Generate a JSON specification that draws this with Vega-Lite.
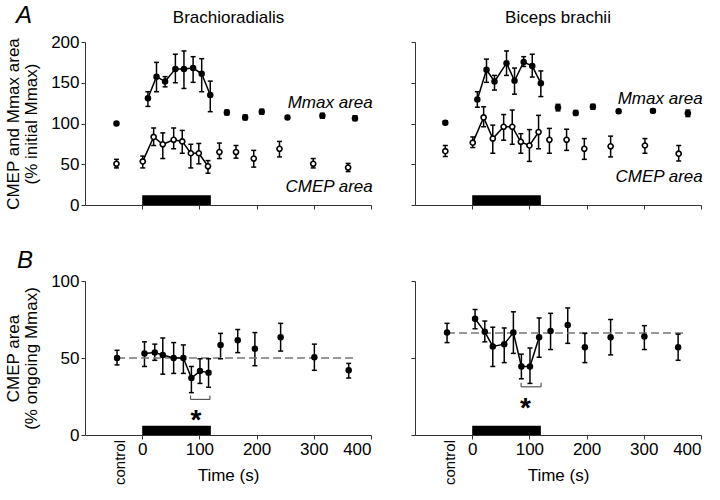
{
 "$schema": "https://vega.github.io/schema/vega-lite/v6.json",
 "background": "white",
 "padding": {"left": 4, "top": 4, "right": 5, "bottom": 4},
 "config": {
  "font": "Liberation Sans",
  "view": {"stroke": null},
  "axis": {"grid": false, "domainColor": "#333", "tickColor": "#333", "labelColor": "black", "titleColor": "black", "labelFontSize": 17, "titleFontSize": 17, "titleFontWeight": "normal", "tickSize": 4, "labelFont": "Liberation Sans", "titleFont": "Liberation Sans"}
 },
 "datasets": {
  "pts": [
   {"p":"A","m":"BR","s":"Mmax","ph":"c","t":-45,"v":100,"lo":98,"hi":102},
   {"p":"A","m":"BR","s":"Mmax","ph":"d","t":10,"v":131,"lo":121,"hi":139},
   {"p":"A","m":"BR","s":"Mmax","ph":"d","t":25,"v":157.5,"lo":139,"hi":175},
   {"p":"A","m":"BR","s":"Mmax","ph":"d","t":40,"v":151.5,"lo":145,"hi":157.5},
   {"p":"A","m":"BR","s":"Mmax","ph":"d","t":58,"v":167,"lo":150,"hi":185},
   {"p":"A","m":"BR","s":"Mmax","ph":"d","t":73,"v":167,"lo":143,"hi":189},
   {"p":"A","m":"BR","s":"Mmax","ph":"d","t":89,"v":168,"lo":150.5,"hi":182},
   {"p":"A","m":"BR","s":"Mmax","ph":"d","t":104,"v":161,"lo":139,"hi":179.5},
   {"p":"A","m":"BR","s":"Mmax","ph":"d","t":119,"v":135,"lo":114.5,"hi":152},
   {"p":"A","m":"BR","s":"Mmax","ph":"p","t":148,"v":113.5,"lo":110.5,"hi":116.5},
   {"p":"A","m":"BR","s":"Mmax","ph":"p","t":180,"v":107.5,"lo":104.5,"hi":110.5},
   {"p":"A","m":"BR","s":"Mmax","ph":"p","t":209,"v":114.5,"lo":111.5,"hi":117.5},
   {"p":"A","m":"BR","s":"Mmax","ph":"p","t":254,"v":107.5,"lo":105.5,"hi":109.5},
   {"p":"A","m":"BR","s":"Mmax","ph":"p","t":315,"v":109.5,"lo":106.5,"hi":112.5},
   {"p":"A","m":"BR","s":"Mmax","ph":"p","t":372,"v":106.5,"lo":103.5,"hi":109.5},
   {"p":"A","m":"BR","s":"CMEP","ph":"c","t":-45,"v":50.5,"lo":45.5,"hi":56},
   {"p":"A","m":"BR","s":"CMEP","ph":"d","t":1,"v":53.5,"lo":45.5,"hi":60},
   {"p":"A","m":"BR","s":"CMEP","ph":"d","t":20,"v":83.5,"lo":73,"hi":94.5},
   {"p":"A","m":"BR","s":"CMEP","ph":"d","t":36,"v":74.5,"lo":57,"hi":88.5},
   {"p":"A","m":"BR","s":"CMEP","ph":"d","t":55,"v":80,"lo":69,"hi":94.5},
   {"p":"A","m":"BR","s":"CMEP","ph":"d","t":70,"v":78,"lo":63.5,"hi":91.5},
   {"p":"A","m":"BR","s":"CMEP","ph":"d","t":85,"v":63.5,"lo":45.5,"hi":74.5},
   {"p":"A","m":"BR","s":"CMEP","ph":"d","t":99,"v":63.5,"lo":50.5,"hi":75.5},
   {"p":"A","m":"BR","s":"CMEP","ph":"d","t":115,"v":47.5,"lo":39,"hi":54.5},
   {"p":"A","m":"BR","s":"CMEP","ph":"p","t":135,"v":65,"lo":57,"hi":76},
   {"p":"A","m":"BR","s":"CMEP","ph":"p","t":164,"v":65,"lo":57.5,"hi":73},
   {"p":"A","m":"BR","s":"CMEP","ph":"p","t":195,"v":57,"lo":46.5,"hi":67},
   {"p":"A","m":"BR","s":"CMEP","ph":"p","t":240,"v":69,"lo":59,"hi":78},
   {"p":"A","m":"BR","s":"CMEP","ph":"p","t":299,"v":50.5,"lo":45.5,"hi":57},
   {"p":"A","m":"BR","s":"CMEP","ph":"p","t":360,"v":46,"lo":41,"hi":51},
   {"p":"A","m":"BB","s":"Mmax","ph":"c","t":-47,"v":101,"lo":99,"hi":103},
   {"p":"A","m":"BB","s":"Mmax","ph":"d","t":9,"v":129.5,"lo":120,"hi":139},
   {"p":"A","m":"BB","s":"Mmax","ph":"d","t":25,"v":166,"lo":150.5,"hi":179},
   {"p":"A","m":"BB","s":"Mmax","ph":"d","t":39,"v":151.5,"lo":141,"hi":159},
   {"p":"A","m":"BB","s":"Mmax","ph":"d","t":60,"v":174,"lo":159,"hi":189},
   {"p":"A","m":"BB","s":"Mmax","ph":"d","t":74,"v":152.5,"lo":136,"hi":168},
   {"p":"A","m":"BB","s":"Mmax","ph":"d","t":90,"v":175.5,"lo":170,"hi":182},
   {"p":"A","m":"BB","s":"Mmax","ph":"d","t":105,"v":170.5,"lo":157,"hi":185},
   {"p":"A","m":"BB","s":"Mmax","ph":"d","t":120,"v":149.5,"lo":133,"hi":164.5},
   {"p":"A","m":"BB","s":"Mmax","ph":"p","t":150,"v":119.5,"lo":115.5,"hi":123.5},
   {"p":"A","m":"BB","s":"Mmax","ph":"p","t":181,"v":113,"lo":110,"hi":116},
   {"p":"A","m":"BB","s":"Mmax","ph":"p","t":211,"v":120.5,"lo":117.5,"hi":123.5},
   {"p":"A","m":"BB","s":"Mmax","ph":"p","t":256,"v":115,"lo":113,"hi":117},
   {"p":"A","m":"BB","s":"Mmax","ph":"p","t":316,"v":115.5,"lo":113.5,"hi":117.5},
   {"p":"A","m":"BB","s":"Mmax","ph":"p","t":377,"v":112.5,"lo":108.5,"hi":116.5},
   {"p":"A","m":"BB","s":"CMEP","ph":"c","t":-47,"v":66,"lo":59.5,"hi":73},
   {"p":"A","m":"BB","s":"CMEP","ph":"d","t":1,"v":76.5,"lo":70.5,"hi":83.5},
   {"p":"A","m":"BB","s":"CMEP","ph":"d","t":20,"v":107.5,"lo":96,"hi":120.5},
   {"p":"A","m":"BB","s":"CMEP","ph":"d","t":36,"v":81.5,"lo":63.5,"hi":98},
   {"p":"A","m":"BB","s":"CMEP","ph":"d","t":55,"v":96,"lo":79.5,"hi":111},
   {"p":"A","m":"BB","s":"CMEP","ph":"d","t":70,"v":96,"lo":74.5,"hi":116.5},
   {"p":"A","m":"BB","s":"CMEP","ph":"d","t":85,"v":77.5,"lo":63.5,"hi":87.5},
   {"p":"A","m":"BB","s":"CMEP","ph":"d","t":100,"v":73,"lo":53.5,"hi":92.5},
   {"p":"A","m":"BB","s":"CMEP","ph":"d","t":116,"v":89.5,"lo":69,"hi":110},
   {"p":"A","m":"BB","s":"CMEP","ph":"p","t":135,"v":80,"lo":63.5,"hi":94},
   {"p":"A","m":"BB","s":"CMEP","ph":"p","t":165,"v":80,"lo":67,"hi":93},
   {"p":"A","m":"BB","s":"CMEP","ph":"p","t":196,"v":69,"lo":56,"hi":81.5},
   {"p":"A","m":"BB","s":"CMEP","ph":"p","t":242,"v":72,"lo":59,"hi":84.5},
   {"p":"A","m":"BB","s":"CMEP","ph":"p","t":302,"v":73,"lo":63.5,"hi":81.5},
   {"p":"A","m":"BB","s":"CMEP","ph":"p","t":361,"v":63,"lo":54,"hi":73},
   {"p":"B","m":"BR","s":"CMEP","ph":"c","t":-44,"v":50,"lo":45.5,"hi":55},
   {"p":"B","m":"BR","s":"CMEP","ph":"d","t":4,"v":53,"lo":44.5,"hi":60.5},
   {"p":"B","m":"BR","s":"CMEP","ph":"d","t":22,"v":53.5,"lo":48.5,"hi":59},
   {"p":"B","m":"BR","s":"CMEP","ph":"d","t":36,"v":52,"lo":39.5,"hi":63},
   {"p":"B","m":"BR","s":"CMEP","ph":"d","t":55,"v":50,"lo":40,"hi":60},
   {"p":"B","m":"BR","s":"CMEP","ph":"d","t":72,"v":50,"lo":40,"hi":58.5},
   {"p":"B","m":"BR","s":"CMEP","ph":"d","t":86,"v":37,"lo":27.5,"hi":44.5},
   {"p":"B","m":"BR","s":"CMEP","ph":"d","t":101,"v":41.5,"lo":33.5,"hi":49.5},
   {"p":"B","m":"BR","s":"CMEP","ph":"d","t":116,"v":40.5,"lo":31,"hi":49.5},
   {"p":"B","m":"BR","s":"CMEP","ph":"p","t":137,"v":58.5,"lo":49.5,"hi":66},
   {"p":"B","m":"BR","s":"CMEP","ph":"p","t":167,"v":61.5,"lo":53.5,"hi":68.5},
   {"p":"B","m":"BR","s":"CMEP","ph":"p","t":197,"v":56,"lo":45,"hi":66.5},
   {"p":"B","m":"BR","s":"CMEP","ph":"p","t":242,"v":63.5,"lo":54.5,"hi":72.5},
   {"p":"B","m":"BR","s":"CMEP","ph":"p","t":301,"v":50.5,"lo":42,"hi":59},
   {"p":"B","m":"BR","s":"CMEP","ph":"p","t":361,"v":42,"lo":37,"hi":46.5},
   {"p":"B","m":"BB","s":"CMEP","ph":"c","t":-44,"v":66.5,"lo":60,"hi":72.5},
   {"p":"B","m":"BB","s":"CMEP","ph":"d","t":5,"v":75.5,"lo":69,"hi":81.5},
   {"p":"B","m":"BB","s":"CMEP","ph":"d","t":22,"v":67,"lo":60.5,"hi":74},
   {"p":"B","m":"BB","s":"CMEP","ph":"d","t":36,"v":57.5,"lo":44.5,"hi":70},
   {"p":"B","m":"BB","s":"CMEP","ph":"d","t":56,"v":59,"lo":47,"hi":69.5},
   {"p":"B","m":"BB","s":"CMEP","ph":"d","t":72,"v":66.5,"lo":53,"hi":80},
   {"p":"B","m":"BB","s":"CMEP","ph":"d","t":86,"v":44.5,"lo":36.5,"hi":52.5},
   {"p":"B","m":"BB","s":"CMEP","ph":"d","t":101,"v":44.5,"lo":33.5,"hi":56.5},
   {"p":"B","m":"BB","s":"CMEP","ph":"d","t":117,"v":63.5,"lo":50.5,"hi":76},
   {"p":"B","m":"BB","s":"CMEP","ph":"p","t":137,"v":67.5,"lo":55.5,"hi":79},
   {"p":"B","m":"BB","s":"CMEP","ph":"p","t":167,"v":71.5,"lo":59.5,"hi":82.5},
   {"p":"B","m":"BB","s":"CMEP","ph":"p","t":197,"v":57,"lo":47,"hi":66},
   {"p":"B","m":"BB","s":"CMEP","ph":"p","t":242,"v":63.5,"lo":52,"hi":75},
   {"p":"B","m":"BB","s":"CMEP","ph":"p","t":301,"v":64,"lo":55.5,"hi":71},
   {"p":"B","m":"BB","s":"CMEP","ph":"p","t":360,"v":57,"lo":48.5,"hi":65.5}
  ],
  "ann": [
   {"m":"BR","label":"Mmax area","t":403,"v":119},
   {"m":"BR","label":"CMEP area","t":403,"v":15.5},
   {"m":"BB","label":"Mmax area","t":403,"v":124},
   {"m":"BB","label":"CMEP area","t":403,"v":28}
  ],
  "muscles": [
   {"m":"BR","label":"Brachioradialis","t":151,"v":200},
   {"m":"BB","label":"Biceps brachii","t":150,"v":200}
  ],
  "task": [{"t0":0,"t1":120}],
  "ctrl": [{"label":"control","t":-44,"v":0}],
  "letterA": [{"label":"A","t":-100,"v":200}],
  "letterB": [{"label":"B","t":-100,"v":100}],
  "refs": [
   {"m":"BR","t0":-44,"t1":372,"v":50},
   {"m":"BB","t0":-44,"t1":374,"v":66.3}
  ],
  "brk": [
   {"m":"BR","t0":84.5,"t1":118.5,"v":23.1,"star":"*","ts":94,"vs":13},
   {"m":"BB","t0":85.5,"t1":120.5,"v":31.3,"star":"*","ts":93,"vs":21}
  ]
 },
 "columns": 2,
 "spacing": {"row": 76, "column": 44},
 "bounds": "flush",
 "concat": [
  {
   "width": 286, "height": 163,
   "layer": [
    {"data": {"name": "pts"}, "transform": [{"filter": "datum.p=='A' && datum.m=='BR'"}],
     "mark": {"type": "rule", "color": "black", "strokeWidth": 1.5},
     "encoding": {
      "x": {"field": "t", "type": "quantitative", "scale": {"domain": [-100, 400]}, "axis": {"values": [0,100,200,300,400], "labels": false, "title": null}},
      "y": {"field": "lo", "type": "quantitative", "scale": {"domain": [0, 200]}, "axis": {"values": [0,50,100,150,200], "title": ["CMEP and Mmax area", "(% initial Mmax)"], "titlePadding": 10, "titleLineHeight": 18}},
      "y2": {"field": "hi"}}},
    {"data": {"name": "pts"}, "transform": [{"filter": "datum.p=='A' && datum.m=='BR'"}],
     "mark": {"type": "tick", "orient": "horizontal", "size": 5, "thickness": 1.5, "color": "black", "opacity": 1},
     "encoding": {"x": {"field": "t", "type": "quantitative"}, "y": {"field": "lo", "type": "quantitative"}}},
    {"data": {"name": "pts"}, "transform": [{"filter": "datum.p=='A' && datum.m=='BR'"}],
     "mark": {"type": "tick", "orient": "horizontal", "size": 5, "thickness": 1.5, "color": "black", "opacity": 1},
     "encoding": {"x": {"field": "t", "type": "quantitative"}, "y": {"field": "hi", "type": "quantitative"}}},
    {"data": {"name": "task"},
     "mark": {"type": "rect", "color": "black"},
     "encoding": {"x": {"field": "t0", "type": "quantitative"}, "x2": {"field": "t1"}, "y": {"datum": 0, "type": "quantitative"}, "y2": {"datum": 12}}},
    {"data": {"name": "pts"}, "transform": [{"filter": "datum.p=='A' && datum.m=='BR' && datum.ph=='d'"}],
     "mark": {"type": "line", "color": "black", "strokeWidth": 1.5},
     "encoding": {"x": {"field": "t", "type": "quantitative"}, "y": {"field": "v", "type": "quantitative"}, "detail": {"field": "s"}}},
    {"data": {"name": "pts"}, "transform": [{"filter": "datum.p=='A' && datum.m=='BR' && datum.s=='Mmax'"}],
     "mark": {"type": "circle", "color": "black", "size": 42, "opacity": 1},
     "encoding": {"x": {"field": "t", "type": "quantitative"}, "y": {"field": "v", "type": "quantitative"}}},
    {"data": {"name": "pts"}, "transform": [{"filter": "datum.p=='A' && datum.m=='BR' && datum.s=='CMEP'"}],
     "mark": {"type": "circle", "fill": "white", "stroke": "black", "strokeWidth": 1.6, "size": 26, "opacity": 1, "fillOpacity": 1},
     "encoding": {"x": {"field": "t", "type": "quantitative"}, "y": {"field": "v", "type": "quantitative"}}},
    {"data": {"name": "ann"}, "transform": [{"filter": "datum.m=='BR'"}],
     "mark": {"type": "text", "align": "right", "baseline": "alphabetic", "fontStyle": "italic", "fontSize": 17, "color": "black"},
     "encoding": {"x": {"field": "t", "type": "quantitative"}, "y": {"field": "v", "type": "quantitative"}, "text": {"field": "label"}}},
    {"data": {"name": "muscles"}, "transform": [{"filter": "datum.m=='BR'"}],
     "mark": {"type": "text", "align": "center", "baseline": "alphabetic", "fontSize": 17, "dy": -19, "color": "black"},
     "encoding": {"x": {"field": "t", "type": "quantitative"}, "y": {"field": "v", "type": "quantitative"}, "text": {"field": "label"}}},
    {"data": {"name": "letterA"},
     "mark": {"type": "text", "fontSize": 24, "fontStyle": "italic", "align": "center", "baseline": "middle", "dx": -61, "dy": -26, "color": "black"},
     "encoding": {"x": {"field": "t", "type": "quantitative"}, "y": {"field": "v", "type": "quantitative"}, "text": {"field": "label"}}}
   ]
  },
  {
   "width": 286, "height": 163,
   "layer": [
    {"data": {"name": "pts"}, "transform": [{"filter": "datum.p=='A' && datum.m=='BB'"}],
     "mark": {"type": "rule", "color": "black", "strokeWidth": 1.5},
     "encoding": {
      "x": {"field": "t", "type": "quantitative", "scale": {"domain": [-100, 400]}, "axis": {"values": [0,100,200,300,400], "labels": false, "title": null}},
      "y": {"field": "lo", "type": "quantitative", "scale": {"domain": [0, 200]}, "axis": {"values": [0,50,100,150,200], "labels": false, "title": null}},
      "y2": {"field": "hi"}}},
    {"data": {"name": "pts"}, "transform": [{"filter": "datum.p=='A' && datum.m=='BB'"}],
     "mark": {"type": "tick", "orient": "horizontal", "size": 5, "thickness": 1.5, "color": "black", "opacity": 1},
     "encoding": {"x": {"field": "t", "type": "quantitative"}, "y": {"field": "lo", "type": "quantitative"}}},
    {"data": {"name": "pts"}, "transform": [{"filter": "datum.p=='A' && datum.m=='BB'"}],
     "mark": {"type": "tick", "orient": "horizontal", "size": 5, "thickness": 1.5, "color": "black", "opacity": 1},
     "encoding": {"x": {"field": "t", "type": "quantitative"}, "y": {"field": "hi", "type": "quantitative"}}},
    {"data": {"name": "task"},
     "mark": {"type": "rect", "color": "black"},
     "encoding": {"x": {"field": "t0", "type": "quantitative"}, "x2": {"field": "t1"}, "y": {"datum": 0, "type": "quantitative"}, "y2": {"datum": 12}}},
    {"data": {"name": "pts"}, "transform": [{"filter": "datum.p=='A' && datum.m=='BB' && datum.ph=='d'"}],
     "mark": {"type": "line", "color": "black", "strokeWidth": 1.5},
     "encoding": {"x": {"field": "t", "type": "quantitative"}, "y": {"field": "v", "type": "quantitative"}, "detail": {"field": "s"}}},
    {"data": {"name": "pts"}, "transform": [{"filter": "datum.p=='A' && datum.m=='BB' && datum.s=='Mmax'"}],
     "mark": {"type": "circle", "color": "black", "size": 42, "opacity": 1},
     "encoding": {"x": {"field": "t", "type": "quantitative"}, "y": {"field": "v", "type": "quantitative"}}},
    {"data": {"name": "pts"}, "transform": [{"filter": "datum.p=='A' && datum.m=='BB' && datum.s=='CMEP'"}],
     "mark": {"type": "circle", "fill": "white", "stroke": "black", "strokeWidth": 1.6, "size": 26, "opacity": 1, "fillOpacity": 1},
     "encoding": {"x": {"field": "t", "type": "quantitative"}, "y": {"field": "v", "type": "quantitative"}}},
    {"data": {"name": "ann"}, "transform": [{"filter": "datum.m=='BB'"}],
     "mark": {"type": "text", "align": "right", "baseline": "alphabetic", "fontStyle": "italic", "fontSize": 17, "color": "black"},
     "encoding": {"x": {"field": "t", "type": "quantitative"}, "y": {"field": "v", "type": "quantitative"}, "text": {"field": "label"}}},
    {"data": {"name": "muscles"}, "transform": [{"filter": "datum.m=='BB'"}],
     "mark": {"type": "text", "align": "center", "baseline": "alphabetic", "fontSize": 17, "dy": -19, "color": "black"},
     "encoding": {"x": {"field": "t", "type": "quantitative"}, "y": {"field": "v", "type": "quantitative"}, "text": {"field": "label"}}}
   ]
  },
  {
   "width": 286, "height": 154,
   "layer": [
    {"data": {"name": "pts"}, "transform": [{"filter": "datum.p=='B' && datum.m=='BR'"}],
     "mark": {"type": "rule", "color": "black", "strokeWidth": 1.5},
     "encoding": {
      "x": {"field": "t", "type": "quantitative", "scale": {"domain": [-100, 400]}, "axis": {"values": [0,100,200,300,400], "title": "Time (s)", "titlePadding": 10}},
      "y": {"field": "lo", "type": "quantitative", "scale": {"domain": [0, 100]}, "axis": {"values": [0,25,50,75,100], "title": ["CMEP area", "(% ongoing Mmax)"], "titlePadding": 10, "titleLineHeight": 18}},
      "y2": {"field": "hi"}}},
    {"data": {"name": "refs"}, "transform": [{"filter": "datum.m=='BR'"}],
     "mark": {"type": "rule", "color": "#777", "strokeWidth": 1.5, "strokeDash": [8, 4]},
     "encoding": {"x": {"field": "t0", "type": "quantitative"}, "x2": {"field": "t1"}, "y": {"field": "v", "type": "quantitative"}}},
    {"data": {"name": "pts"}, "transform": [{"filter": "datum.p=='B' && datum.m=='BR'"}],
     "mark": {"type": "tick", "orient": "horizontal", "size": 5, "thickness": 1.5, "color": "black", "opacity": 1},
     "encoding": {"x": {"field": "t", "type": "quantitative"}, "y": {"field": "lo", "type": "quantitative"}}},
    {"data": {"name": "pts"}, "transform": [{"filter": "datum.p=='B' && datum.m=='BR'"}],
     "mark": {"type": "tick", "orient": "horizontal", "size": 5, "thickness": 1.5, "color": "black", "opacity": 1},
     "encoding": {"x": {"field": "t", "type": "quantitative"}, "y": {"field": "hi", "type": "quantitative"}}},
    {"data": {"name": "task"},
     "mark": {"type": "rect", "color": "black"},
     "encoding": {"x": {"field": "t0", "type": "quantitative"}, "x2": {"field": "t1"}, "y": {"datum": 0, "type": "quantitative"}, "y2": {"datum": 6}}},
    {"data": {"name": "pts"}, "transform": [{"filter": "datum.p=='B' && datum.m=='BR' && datum.ph=='d'"}],
     "mark": {"type": "line", "color": "black", "strokeWidth": 1.5},
     "encoding": {"x": {"field": "t", "type": "quantitative"}, "y": {"field": "v", "type": "quantitative"}}},
    {"data": {"name": "pts"}, "transform": [{"filter": "datum.p=='B' && datum.m=='BR'"}],
     "mark": {"type": "circle", "color": "black", "size": 42, "opacity": 1},
     "encoding": {"x": {"field": "t", "type": "quantitative"}, "y": {"field": "v", "type": "quantitative"}}},
    {"data": {"name": "brk"}, "transform": [{"filter": "datum.m=='BR'"}],
     "mark": {"type": "rule", "color": "#555", "strokeWidth": 1.2},
     "encoding": {"x": {"field": "t0", "type": "quantitative"}, "x2": {"field": "t1"}, "y": {"field": "v", "type": "quantitative"}}},
    {"data": {"name": "brk"}, "transform": [{"filter": "datum.m=='BR'"}],
     "mark": {"type": "tick", "orient": "vertical", "size": 4, "thickness": 1.2, "color": "#555", "opacity": 1, "yOffset": -2},
     "encoding": {"x": {"field": "t0", "type": "quantitative"}, "y": {"field": "v", "type": "quantitative"}}},
    {"data": {"name": "brk"}, "transform": [{"filter": "datum.m=='BR'"}],
     "mark": {"type": "tick", "orient": "vertical", "size": 4, "thickness": 1.2, "color": "#555", "opacity": 1, "yOffset": -2},
     "encoding": {"x": {"field": "t1", "type": "quantitative"}, "y": {"field": "v", "type": "quantitative"}}},
    {"data": {"name": "brk"}, "transform": [{"filter": "datum.m=='BR'"}],
     "mark": {"type": "text", "fontSize": 28, "fontWeight": "bold", "align": "center", "baseline": "middle", "dy": 6, "color": "black"},
     "encoding": {"x": {"field": "ts", "type": "quantitative"}, "y": {"field": "vs", "type": "quantitative"}, "text": {"field": "star"}}},
    {"data": {"name": "ctrl"},
     "mark": {"type": "text", "fontSize": 15, "angle": 270, "align": "right", "baseline": "middle", "dx": -5, "dy": 3, "color": "black"},
     "encoding": {"x": {"field": "t", "type": "quantitative"}, "y": {"field": "v", "type": "quantitative"}, "text": {"field": "label"}}},
    {"data": {"name": "letterB"},
     "mark": {"type": "text", "fontSize": 24, "fontStyle": "italic", "align": "center", "baseline": "middle", "dx": -60, "dy": -20, "color": "black"},
     "encoding": {"x": {"field": "t", "type": "quantitative"}, "y": {"field": "v", "type": "quantitative"}, "text": {"field": "label"}}}
   ]
  },
  {
   "width": 286, "height": 154,
   "layer": [
    {"data": {"name": "pts"}, "transform": [{"filter": "datum.p=='B' && datum.m=='BB'"}],
     "mark": {"type": "rule", "color": "black", "strokeWidth": 1.5},
     "encoding": {
      "x": {"field": "t", "type": "quantitative", "scale": {"domain": [-100, 400]}, "axis": {"values": [0,100,200,300,400], "title": "Time (s)", "titlePadding": 10}},
      "y": {"field": "lo", "type": "quantitative", "scale": {"domain": [0, 100]}, "axis": {"values": [0,25,50,75,100], "labels": false, "title": null}},
      "y2": {"field": "hi"}}},
    {"data": {"name": "refs"}, "transform": [{"filter": "datum.m=='BB'"}],
     "mark": {"type": "rule", "color": "#777", "strokeWidth": 1.5, "strokeDash": [8, 4]},
     "encoding": {"x": {"field": "t0", "type": "quantitative"}, "x2": {"field": "t1"}, "y": {"field": "v", "type": "quantitative"}}},
    {"data": {"name": "pts"}, "transform": [{"filter": "datum.p=='B' && datum.m=='BB'"}],
     "mark": {"type": "tick", "orient": "horizontal", "size": 5, "thickness": 1.5, "color": "black", "opacity": 1},
     "encoding": {"x": {"field": "t", "type": "quantitative"}, "y": {"field": "lo", "type": "quantitative"}}},
    {"data": {"name": "pts"}, "transform": [{"filter": "datum.p=='B' && datum.m=='BB'"}],
     "mark": {"type": "tick", "orient": "horizontal", "size": 5, "thickness": 1.5, "color": "black", "opacity": 1},
     "encoding": {"x": {"field": "t", "type": "quantitative"}, "y": {"field": "hi", "type": "quantitative"}}},
    {"data": {"name": "task"},
     "mark": {"type": "rect", "color": "black"},
     "encoding": {"x": {"field": "t0", "type": "quantitative"}, "x2": {"field": "t1"}, "y": {"datum": 0, "type": "quantitative"}, "y2": {"datum": 6}}},
    {"data": {"name": "pts"}, "transform": [{"filter": "datum.p=='B' && datum.m=='BB' && datum.ph=='d'"}],
     "mark": {"type": "line", "color": "black", "strokeWidth": 1.5},
     "encoding": {"x": {"field": "t", "type": "quantitative"}, "y": {"field": "v", "type": "quantitative"}}},
    {"data": {"name": "pts"}, "transform": [{"filter": "datum.p=='B' && datum.m=='BB'"}],
     "mark": {"type": "circle", "color": "black", "size": 42, "opacity": 1},
     "encoding": {"x": {"field": "t", "type": "quantitative"}, "y": {"field": "v", "type": "quantitative"}}},
    {"data": {"name": "brk"}, "transform": [{"filter": "datum.m=='BB'"}],
     "mark": {"type": "rule", "color": "#555", "strokeWidth": 1.2},
     "encoding": {"x": {"field": "t0", "type": "quantitative"}, "x2": {"field": "t1"}, "y": {"field": "v", "type": "quantitative"}}},
    {"data": {"name": "brk"}, "transform": [{"filter": "datum.m=='BB'"}],
     "mark": {"type": "tick", "orient": "vertical", "size": 4, "thickness": 1.2, "color": "#555", "opacity": 1, "yOffset": -2},
     "encoding": {"x": {"field": "t0", "type": "quantitative"}, "y": {"field": "v", "type": "quantitative"}}},
    {"data": {"name": "brk"}, "transform": [{"filter": "datum.m=='BB'"}],
     "mark": {"type": "tick", "orient": "vertical", "size": 4, "thickness": 1.2, "color": "#555", "opacity": 1, "yOffset": -2},
     "encoding": {"x": {"field": "t1", "type": "quantitative"}, "y": {"field": "v", "type": "quantitative"}}},
    {"data": {"name": "brk"}, "transform": [{"filter": "datum.m=='BB'"}],
     "mark": {"type": "text", "fontSize": 28, "fontWeight": "bold", "align": "center", "baseline": "middle", "dy": 6, "color": "black"},
     "encoding": {"x": {"field": "ts", "type": "quantitative"}, "y": {"field": "vs", "type": "quantitative"}, "text": {"field": "star"}}},
    {"data": {"name": "ctrl"},
     "mark": {"type": "text", "fontSize": 15, "angle": 270, "align": "right", "baseline": "middle", "dx": -5, "dy": 3, "color": "black"},
     "encoding": {"x": {"field": "t", "type": "quantitative"}, "y": {"field": "v", "type": "quantitative"}, "text": {"field": "label"}}}
   ]
  }
 ]
}
